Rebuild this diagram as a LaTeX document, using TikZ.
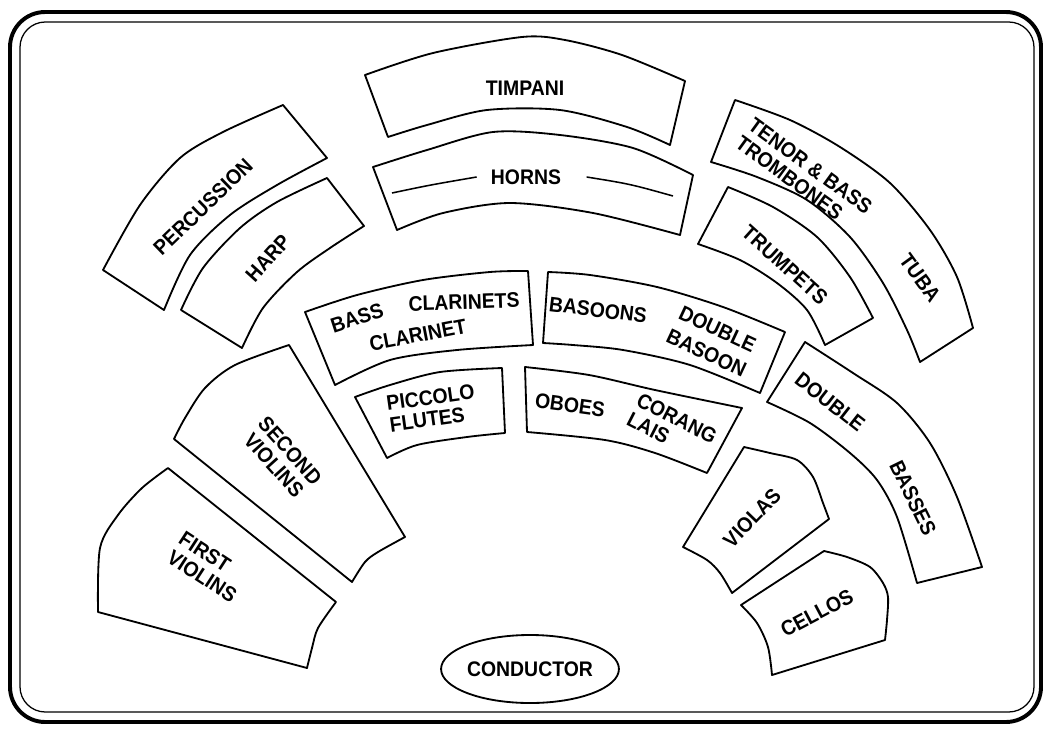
\documentclass[tikz,border=0pt]{standalone}
\usepackage{fontspec}
\setmainfont{Liberation Sans}[FakeStretch=0.92]
\usetikzlibrary{shapes.geometric}
\newcommand{\seatfont}{\fontsize{15}{15.5}\selectfont\bfseries}

\begin{document}
\begin{tikzpicture}[x=0.025cm, y=-0.025cm,
  % Outline styles for the stage and the seating blocks
  frame/.style={draw=black, line width=2.8pt, rounded corners=25pt},
  innerframe/.style={draw=black, line width=0.9pt, rounded corners=18pt},
  section/.style={draw=black, line width=1.3pt, line join=round},
  % Label styles
  seat/.style={font=\seatfont, inner sep=0pt, align=center},
  seatleft/.style={font=\seatfont, inner sep=0pt, align=left},
  podium/.style={ellipse, draw=black, line width=1.3pt, minimum width=4cm, minimum height=1.7cm, font=\seatfont, inner sep=0pt}
]
\useasboundingbox (0,0) rectangle (1044,730);

% Layer 1: Stage frame
\draw[frame] (10,12) rectangle (1041,722);
\draw[innerframe] (20,22) rectangle (1034,712);

% Layer 2: Back rows
\draw[section] plot[smooth] coordinates {(365,75) (433,53) (522,37) (565,40) (622,55) (685,81)}
  -- plot[smooth] coordinates {(670,145) (627,127) (560,110) (487,110) (427,125) (388,137)} -- cycle;
\draw[section] plot[smooth] coordinates {(373,167) (427,150) (493,132) (560,135) (633,148) (693,175)}
  -- plot[smooth] coordinates {(680,235) (593,213) (510,203) (443,213) (397,230)} -- cycle;
\draw[section] plot[smooth] coordinates {(103,270) (140,205) (180,158) (223,132) (283,105)}
  -- plot[smooth] coordinates {(327,158) (277,185) (230,215) (190,255) (164,310)} -- cycle;
\draw[section] plot[smooth] coordinates {(181,310) (203,268) (240,228) (277,202) (327,178)}
  -- plot[smooth] coordinates {(364,226) (330,248) (297,272) (263,308) (242,348)} -- cycle;
\draw[section] plot[smooth] coordinates {(735,100) (790,120) (840,147) (890,183) (930,230) (957,277) (973,328)}
  -- plot[smooth] coordinates {(920,362) (907,330) (883,283) (850,237) (807,200) (757,177) (711,162)} -- cycle;
\draw[section] plot[smooth] coordinates {(728,187) (773,207) (817,237) (850,277) (873,318)}
  -- plot[smooth] coordinates {(825,345) (807,310) (777,283) (740,260) (698,244)} -- cycle;

% Layer 3: Woodwinds
\draw[section] plot[smooth] coordinates {(305,312) (357,295) (423,280) (490,272) (528,271)}
  -- plot[smooth] coordinates {(533,345) (457,350) (390,360) (335,385)} -- cycle;
\draw[section] plot[smooth] coordinates {(548,272) (590,275) (657,287) (723,307) (785,332)}
  -- plot[smooth] coordinates {(760,393) (690,365) (623,350) (573,345) (543,343)} -- cycle;
\draw[section] plot[smooth] coordinates {(355,397) (390,385) (440,372) (502,368)}
  -- plot[smooth] coordinates {(505,433) (467,437) (417,445) (387,458)} -- cycle;
\draw[section] plot[smooth] coordinates {(525,367) (589,375) (655,390) (742,408)}
  -- plot[smooth] coordinates {(707,473) (655,453) (605,440) (527,432)} -- cycle;

% Layer 4: Strings
\draw[section] plot[smooth] coordinates {(805,342) (853,373) (897,403) (930,443) (957,497) (982,567)}
  -- plot[smooth] coordinates {(917,583) (897,517) (877,480) (850,453) (810,423) (767,402)} -- cycle;
\draw[section] (683,547) -- plot[smooth] coordinates {(744,447) (770,453) (797,460) (813,477) (823,503) (829,519)}
  -- plot[smooth] coordinates {(732,593) (720,573) (707,560) (683,547)} -- cycle;
\draw[section] (741,605) -- plot[smooth] coordinates {(824,551) (847,557) (870,567) (883,583) (888,597) (887,620) (885,640)}
  -- plot[smooth] coordinates {(772,675) (768,647) (757,623) (741,605)} -- cycle;
\draw[section] (168,468) -- plot[smooth] coordinates {(336,602) (318,628) (312,648) (307,668)}
  -- plot[smooth] coordinates {(98,612) (100,548) (118,515) (142,488) (168,468)} -- cycle;
\draw[section] (174,439) -- plot[smooth] coordinates {(352,582) (365,562) (378,552) (405,537)}
  -- plot[smooth] coordinates {(289,345) (235,365) (205,388) (185,418) (174,439)} -- cycle;

% Layer 5: Section labels
\node[seat] (timpani) at (525,88) {TIMPANI};
\node[seat] (horns) at (526,177) {HORNS};
\node[seat, rotate=44] (percussion) at (203,207) {PERCUSSION};
\node[seat, rotate=48] (harp) at (268,258) {HARP};
\node[seatleft, rotate=-36] (trombones) at (804,175) {TENOR \& BASS\\TROMBONES};
\node[seat, rotate=-54] (tuba) at (920,278) {TUBA};
\node[seat, rotate=-42] (trumpets) at (785,265) {TRUMPETS};
\node[seat, rotate=18] (bassclar) at (357,318) {BASS};
\node[seat, rotate=2] (clarinets) at (464,302) {CLARINETS};
\node[seat, rotate=11] (clarinet) at (418,335) {CLARINET};
\node[seat, rotate=-7] (bassoons) at (598,310) {BASOONS};
\node[seat, rotate=-25] (contra) at (712,341) {DOUBLE\\[3pt]BASOON};
\node[seatleft, rotate=8] (flutes) at (432,408) {PICCOLO\\FLUTES};
\node[seat, rotate=-8] (oboes) at (570,405) {OBOES};
\node[seatleft, rotate=-27] (cor) at (672,428) {CORANG\\LAIS};
\node[seat, rotate=-38] (dbltop) at (830,402) {DOUBLE};
\node[seat, rotate=-64] (basses) at (913,498) {BASSES};
\node[seat, rotate=46] (violas) at (752,518) {VIOLAS};
\node[seat, rotate=28] (cellos) at (817,613) {CELLOS};
\node[seat, rotate=-48] (second) at (282,458) {SECOND\\VIOLINS};
\node[seatleft, rotate=-33] (first) at (208,567) {FIRST\\VIOLINS};
\node[podium] (conductor) at (530,669) {CONDUCTOR};

% Layer 6: Lines beside the horns label
\coordinate (hornsL) at (392,193);
\coordinate (hornsR) at (673,196);
\draw[line width=1.1pt] (hornsL) .. controls (430,185) .. ([xshift=-10pt]horns.west);
\draw[line width=1.1pt] ([xshift=18pt]horns.east) .. controls (630,184) .. (hornsR);
\end{tikzpicture}
\end{document}
